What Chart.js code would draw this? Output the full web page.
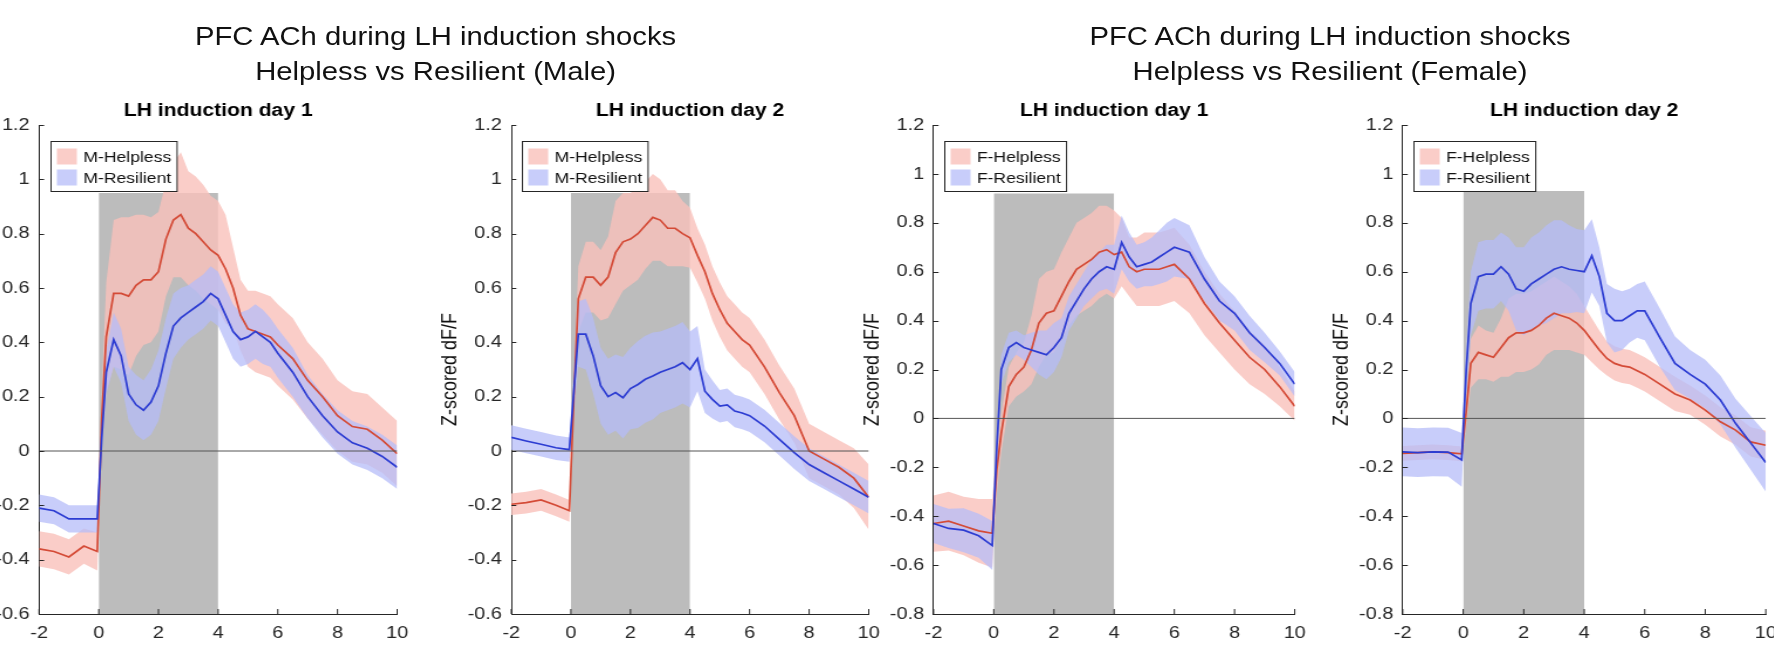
<!DOCTYPE html>
<html>
<head>
<meta charset="utf-8">
<title>PFC ACh during LH induction shocks</title>
<script src="https://cdn.jsdelivr.net/npm/chart.js@4.4.0/dist/chart.umd.min.js"></script>
<style>
  html, body { margin:0; padding:0; background:#fff; overflow:hidden; }
  body { width:1774px; height:645px; position:relative; font-family:"Liberation Sans", Arial, Helvetica, sans-serif; }
  /* the figure is a bit wider than it is tall-scaled, so lay out at 1/1.17 and stretch */
  #stage { position:absolute; left:0; top:0; width:1516.24px; height:645px; transform:scaleX(1.17); transform-origin:0 0; }
  .suptitle { position:absolute; top:19px; width:600px; text-align:center; font-size:25px; line-height:35px; color:#111; white-space:nowrap; }
  .panel { position:absolute; top:90px; height:555px; }
</style>
</head>
<body>
<div id="stage">
  <div class="suptitle" style="left:72.3px">PFC ACh during LH induction shocks<br>Helpless vs Resilient (Male)</div>
  <div class="suptitle" style="left:836.8px">PFC ACh during LH induction shocks<br>Helpless vs Resilient (Female)</div>
  <div class="panel" style="left:0px;width:352.5px"><canvas id="c1"></canvas></div>
  <div class="panel" style="left:369.8px;width:386.5px"><canvas id="c2"></canvas></div>
  <div class="panel" style="left:730.7px;width:389.6px"><canvas id="c3"></canvas></div>
  <div class="panel" style="left:1132.2px;width:391.2px"><canvas id="c4"></canvas></div>
</div>

<script>
// ===== Data (seconds from shock onset, z-scored dF/F) =====
const timeSec = [-2,-1.5,-1,-0.5,-0.05,0.1,0.25,0.5,0.75,1,1.25,1.5,1.75,2,2.25,2.5,2.75,3,3.25,3.5,3.75,4,4.25,4.5,4.75,5,5.25,5.5,5.75,6,6.5,7,7.5,8,8.5,9,9.5,10];

const maleDay1HelplessMean = [-0.36,-0.37,-0.39,-0.35,-0.37,0.12,0.42,0.58,0.58,0.57,0.61,0.63,0.63,0.66,0.78,0.85,0.87,0.82,0.80,0.77,0.74,0.72,0.67,0.60,0.50,0.45,0.44,0.43,0.42,0.39,0.34,0.26,0.20,0.13,0.09,0.08,0.04,-0.01];
const maleDay1HelplessSem  = [0.065,0.065,0.065,0.065,0.07,0.1,0.2,0.27,0.28,0.29,0.26,0.24,0.23,0.22,0.21,0.21,0.23,0.21,0.21,0.21,0.2,0.2,0.2,0.15,0.13,0.14,0.15,0.15,0.15,0.15,0.15,0.14,0.14,0.13,0.13,0.13,0.12,0.12];
const maleDay1ResilientMean = [-0.21,-0.22,-0.25,-0.25,-0.25,0.05,0.29,0.41,0.35,0.21,0.17,0.15,0.18,0.24,0.36,0.46,0.49,0.51,0.53,0.55,0.58,0.56,0.50,0.44,0.41,0.42,0.44,0.42,0.40,0.36,0.29,0.20,0.13,0.07,0.03,0.01,-0.02,-0.06];
const maleDay1ResilientSem  = [0.05,0.05,0.05,0.05,0.05,0.05,0.08,0.1,0.1,0.1,0.11,0.11,0.12,0.13,0.13,0.12,0.11,0.1,0.1,0.1,0.1,0.1,0.1,0.1,0.1,0.1,0.1,0.1,0.09,0.09,0.09,0.08,0.08,0.08,0.08,0.08,0.08,0.08];

const maleDay2HelplessMean = [-0.196,-0.19,-0.18,-0.20,-0.22,0.2,0.56,0.64,0.64,0.61,0.64,0.73,0.77,0.78,0.80,0.83,0.86,0.85,0.82,0.82,0.80,0.785,0.72,0.66,0.58,0.52,0.47,0.44,0.41,0.39,0.31,0.215,0.13,0.0,-0.03,-0.06,-0.10,-0.17];
const maleDay2HelplessSem  = [0.04,0.04,0.04,0.04,0.04,0.08,0.12,0.13,0.13,0.13,0.15,0.19,0.18,0.17,0.17,0.16,0.16,0.15,0.14,0.14,0.12,0.11,0.1,0.1,0.1,0.1,0.1,0.1,0.1,0.1,0.1,0.1,0.1,0.1,0.1,0.1,0.11,0.12];
const maleDay2ResilientMean = [0.05,0.037,0.025,0.012,0.005,0.22,0.43,0.43,0.35,0.24,0.20,0.215,0.196,0.23,0.245,0.264,0.276,0.29,0.30,0.31,0.325,0.30,0.34,0.22,0.19,0.165,0.17,0.147,0.14,0.13,0.092,0.043,-0.006,-0.05,-0.08,-0.11,-0.14,-0.17];
const maleDay2ResilientSem  = [0.045,0.045,0.045,0.045,0.045,0.08,0.12,0.13,0.14,0.14,0.14,0.14,0.15,0.15,0.16,0.16,0.16,0.15,0.15,0.15,0.15,0.14,0.12,0.08,0.07,0.06,0.06,0.06,0.06,0.06,0.06,0.06,0.06,0.06,0.06,0.06,0.06,0.06];

const femaleDay1HelplessMean = [-0.43,-0.42,-0.44,-0.46,-0.47,-0.21,-0.06,0.13,0.18,0.21,0.28,0.39,0.43,0.44,0.50,0.56,0.61,0.63,0.65,0.68,0.69,0.67,0.68,0.62,0.60,0.61,0.61,0.61,0.62,0.63,0.57,0.47,0.39,0.32,0.25,0.20,0.13,0.05];
const femaleDay1HelplessSem  = [0.115,0.12,0.12,0.13,0.14,0.1,0.08,0.08,0.09,0.1,0.14,0.18,0.17,0.17,0.18,0.18,0.19,0.19,0.19,0.19,0.18,0.18,0.14,0.12,0.14,0.15,0.15,0.15,0.15,0.15,0.14,0.13,0.12,0.12,0.11,0.1,0.08,0.06];
const femaleDay1ResilientMean = [-0.43,-0.45,-0.457,-0.48,-0.52,-0.12,0.2,0.29,0.31,0.29,0.28,0.27,0.26,0.29,0.33,0.43,0.48,0.53,0.57,0.60,0.62,0.61,0.72,0.66,0.62,0.63,0.64,0.66,0.68,0.70,0.68,0.57,0.48,0.43,0.35,0.29,0.225,0.14];
const femaleDay1ResilientSem  = [0.08,0.08,0.09,0.09,0.1,0.08,0.06,0.06,0.05,0.05,0.07,0.09,0.1,0.1,0.08,0.07,0.07,0.07,0.08,0.08,0.09,0.1,0.11,0.1,0.09,0.09,0.1,0.11,0.12,0.12,0.11,0.09,0.08,0.07,0.07,0.06,0.05,0.05];

const femaleDay2HelplessMean = [-0.143,-0.14,-0.137,-0.14,-0.145,0.03,0.225,0.27,0.26,0.25,0.29,0.33,0.35,0.35,0.36,0.38,0.41,0.43,0.42,0.41,0.39,0.36,0.32,0.28,0.245,0.225,0.215,0.21,0.195,0.18,0.14,0.10,0.075,0.034,-0.014,-0.048,-0.096,-0.11];
const femaleDay2HelplessSem  = [0.03,0.03,0.03,0.03,0.03,0.06,0.1,0.11,0.1,0.1,0.12,0.16,0.16,0.16,0.16,0.16,0.15,0.15,0.14,0.13,0.12,0.1,0.09,0.08,0.07,0.07,0.07,0.07,0.07,0.07,0.07,0.07,0.06,0.06,0.06,0.06,0.06,0.06];
const femaleDay2ResilientMean = [-0.137,-0.14,-0.137,-0.138,-0.17,0.2,0.47,0.58,0.59,0.59,0.62,0.59,0.53,0.52,0.55,0.57,0.59,0.61,0.62,0.61,0.605,0.60,0.665,0.58,0.43,0.40,0.40,0.42,0.44,0.44,0.33,0.225,0.18,0.14,0.075,-0.02,-0.10,-0.18];
const femaleDay2ResilientSem  = [0.1,0.1,0.1,0.1,0.11,0.1,0.13,0.14,0.14,0.14,0.14,0.15,0.17,0.18,0.19,0.19,0.2,0.2,0.19,0.18,0.17,0.17,0.15,0.12,0.12,0.13,0.12,0.11,0.11,0.12,0.12,0.11,0.1,0.1,0.1,0.1,0.11,0.12];

const shockWindow = [0, 4];          // shock on/off (s)
const shockPatchTop = [0.95, 0.95, 0.92, 0.93];
const panelTitles = ["LH induction day 1", "LH induction day 2", "LH induction day 1", "LH induction day 2"];
const legendNames = [["M-Helpless","M-Resilient"], ["M-Helpless","M-Resilient"], ["F-Helpless","F-Resilient"], ["F-Helpless","F-Resilient"]];
const yMin = [-0.6, -0.6, -0.8, -0.8];
const yMax = 1.2;
const xMin = -2, xMax = 10;
const yAxisLabel = "Z-scored dF/F";

// ===== Style =====
const FONT = '"Liberation Sans", Arial, Helvetica, sans-serif';
const AXIS = '#262626';
const RED_LINE = '#D44A36', BLUE_LINE = '#2C3CD2';
const RED_BAND = 'rgba(249,192,186,0.8)', BLUE_BAND = 'rgba(182,188,248,0.75)';
const SHOCK_GRAY = '#BCBCBC';

// ===== Helpers =====
const pts = vals => vals.map((v, i) => ({ x: timeSec[i], y: v }));
const band = (mean, sem, sign) => mean.map((m, i) => ({ x: timeSec[i], y: m + sign * sem[i] }));

// inward MATLAB-style tick marks
const inwardTicks = {
  id: 'inwardTicks',
  afterDraw(chart) {
    const { ctx, chartArea: a, scales: { x, y } } = chart;
    ctx.save();
    ctx.strokeStyle = AXIS; ctx.lineWidth = 1;
    ctx.beginPath();
    y.ticks.forEach(t => { const py = Math.round(y.getPixelForValue(t.value)) + 0.5; ctx.moveTo(a.left, py); ctx.lineTo(a.left + 4.3, py); });
    x.ticks.forEach(t => { const px = x.getPixelForValue(t.value); ctx.moveTo(px, a.bottom); ctx.lineTo(px, a.bottom - 5); });
    ctx.stroke();
    ctx.restore();
  }
};

// boxed legend in the top-left corner of the axes
const boxLegend = {
  id: 'boxLegend',
  afterDraw(chart) {
    const { ctx, chartArea: a } = chart;
    const items = chart.data.datasets.filter(d => d.legendRank).sort((p, q) => p.legendRank - q.legendRank);
    ctx.save();
    ctx.font = '15px ' + FONT;
    const tw = Math.max(...items.map(d => ctx.measureText(d.label).width));
    const x0 = Math.round(a.left + 9.4) + 0.5, y0 = Math.round(a.top + 16) + 0.5, w = 27.4 + tw + 5, h = 50;
    ctx.fillStyle = '#fff'; ctx.fillRect(x0, y0, w, h);
    ctx.strokeStyle = AXIS; ctx.lineWidth = 1; ctx.strokeRect(x0, y0, w, h);
    items.forEach((d, i) => {
      const cy = y0 + 15 + i * 21;
      ctx.fillStyle = d.backgroundColor; ctx.fillRect(x0 + 5, cy - 8, 17, 16);
      ctx.fillStyle = '#111'; ctx.textAlign = 'left'; ctx.textBaseline = 'middle';
      ctx.fillText(d.label, x0 + 27.4, cy + 1.5);
    });
    ctx.restore();
  }
};

function makePanel(canvasId, k, helpMean, helpSem, resMean, resSem, yw, showYLabel) {
  const datasets = [
    { label: 'zero', data: [{ x: xMin, y: 0 }, { x: xMax, y: 0 }], borderColor: '#555', borderWidth: 1, pointRadius: 0, order: 0 },
    { label: legendNames[k][1], data: pts(resMean), borderColor: BLUE_LINE, borderWidth: 1.7, pointRadius: 0, order: 1 },
    { label: legendNames[k][0], data: pts(helpMean), borderColor: RED_LINE, borderWidth: 1.7, pointRadius: 0, order: 2 },
    { label: legendNames[k][1], legendRank: 2, data: band(resMean, resSem, 1), backgroundColor: BLUE_BAND, borderColor: 'rgba(0,0,0,0)', borderWidth: 0, pointRadius: 0, fill: '+1', order: 3 },
    { label: 'res-low', data: band(resMean, resSem, -1), borderColor: 'rgba(0,0,0,0)', borderWidth: 0, pointRadius: 0, fill: false, order: 3 },
    { label: legendNames[k][0], legendRank: 1, data: band(helpMean, helpSem, 1), backgroundColor: RED_BAND, borderColor: 'rgba(0,0,0,0)', borderWidth: 0, pointRadius: 0, fill: '+1', order: 4 },
    { label: 'help-low', data: band(helpMean, helpSem, -1), borderColor: 'rgba(0,0,0,0)', borderWidth: 0, pointRadius: 0, fill: false, order: 4 },
    { label: 'shock', data: shockWindow.map(t => ({ x: t, y: shockPatchTop[k] })), backgroundColor: SHOCK_GRAY, borderColor: 'rgba(0,0,0,0)', borderWidth: 0, pointRadius: 0, fill: 'start', order: 5 }
  ];

  return new Chart(document.getElementById(canvasId), {
    type: 'line',
    data: { datasets },
    plugins: [inwardTicks, boxLegend],
    options: {
      animation: false,
      responsive: true,
      maintainAspectRatio: false,
      devicePixelRatio: 1,
      layout: { padding: { left: 0, right: 14, top: 0, bottom: 0 } },
      elements: { line: { tension: 0 } },
      plugins: {
        legend: { display: false },
        tooltip: { enabled: false },
        title: {
          display: true, text: panelTitles[k], fullSize: false, color: '#000',
          padding: { top: 12, bottom: 5 },
          font: { family: FONT, size: 18, weight: 'bold', lineHeight: 1 }
        }
      },
      scales: {
        x: {
          type: 'linear', min: xMin, max: xMax, z: 1,
          ticks: { stepSize: 2, color: AXIS, padding: 9, maxRotation: 0, autoSkip: false, font: { family: FONT, size: 17 } },
          grid: { display: false, drawTicks: false },
          border: { display: true, color: AXIS, width: 1 },
          afterFit: s => { s.height = 31; s.paddingLeft = 0; s.paddingRight = 0; }
        },
        y: {
          type: 'linear', min: yMin[k], max: yMax, z: 1,
          ticks: { stepSize: 0.2, color: AXIS, padding: 8, font: { family: FONT, size: 17 },
                   callback: v => String(Math.round(v * 10) / 10) },
          grid: { display: false, drawTicks: false },
          border: { display: true, color: AXIS, width: 1 },
          title: { display: showYLabel, text: yAxisLabel, color: '#111', padding: { top: 4, bottom: 0 }, font: { family: FONT, size: 18 } },
          afterFit: s => { s.width = yw; s.paddingTop = 0; s.paddingBottom = 0; }
        }
      }
    }
  });
}

// ===== Init =====
makePanel('c1', 0, maleDay1HelplessMean, maleDay1HelplessSem, maleDay1ResilientMean, maleDay1ResilientSem, 33.3, false);
makePanel('c2', 1, maleDay2HelplessMean, maleDay2HelplessSem, maleDay2ResilientMean, maleDay2ResilientSem, 67, true);
makePanel('c3', 2, femaleDay1HelplessMean, femaleDay1HelplessSem, femaleDay1ResilientMean, femaleDay1ResilientSem, 66.9, true);
makePanel('c4', 3, femaleDay2HelplessMean, femaleDay2HelplessSem, femaleDay2ResilientMean, femaleDay2ResilientSem, 66.9, true);
</script>
</body>
</html>
